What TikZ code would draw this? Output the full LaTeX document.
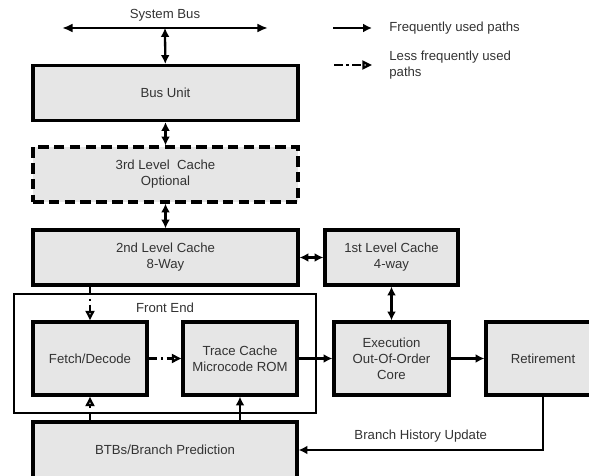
\documentclass[tikz,border=0pt]{standalone}
\usepackage{fontspec}
\setmainfont{Liberation Sans}
\usepackage{xcolor}
\usetikzlibrary{positioning,arrows.meta,calc}
\definecolor{boxgray}{RGB}{230,230,230}
\definecolor{txtgray}{RGB}{51,51,51}

\begin{document}
\begin{tikzpicture}[
  x=0.02cm, y=-0.02cm,
  font=\fontsize{7.5}{9}\selectfont,
  unit/.style={rectangle, draw, line width=1.8pt, fill=boxgray, text=txtgray, align=center, inner sep=0pt},
  optunit/.style={unit, dashed, dash pattern=on 6pt off 3pt},
  group/.style={rectangle, draw, line width=0.7pt, inner sep=0pt},
  lbl/.style={text=txtgray, align=left, inner sep=0pt},
  arrow/.style={-{Latex[length=5pt,width=5pt]}, line width=1.3pt},
  biarrow/.style={{Latex[length=5pt,width=5pt]}-{Latex[length=5pt,width=5pt]}, line width=1.3pt},
  busarrow/.style={{Latex[length=6pt,width=5pt]}-{Latex[length=6pt,width=5pt]}, line width=1.3pt},
  lessarrow/.style={-{Triangle[open,length=5.5pt,width=5pt]}, line width=1.3pt, dash pattern=on 5pt off 2pt on 1.3pt off 2pt}
]
  \useasboundingbox (0,0) rectangle (589,476);
  \clip (0,0) rectangle (589,476);

  % System bus
  \node[lbl] (sysbus) at (165,15) {System Bus};
  \coordinate (busL) at (62,28);
  \coordinate (busR) at (268,28);
  \coordinate (busM) at (165,28);
  \draw[busarrow] (busL) -- (busR);

  % Units
  \node[unit, minimum width=5.3cm, minimum height=1.1cm] (busunit) at (165.5,93) {Bus Unit};
  \node[optunit, minimum width=5.3cm, minimum height=1.1cm] (cache3) at (165.5,174.5) {3rd Level\ \ Cache\\Optional};
  \node[unit, minimum width=5.3cm, minimum height=1.1cm] (cache2) at (165.5,257.5) {2nd Level Cache\\8-Way};
  \node[unit, minimum width=2.66cm, minimum height=1.1cm] (cache1) at (391.5,257.5) {1st Level Cache\\4-way};
  \node[group, minimum width=6.04cm, minimum height=2.38cm] (frontend) at (165,353.5) {};
  \node[lbl] (felabel) at (165,308) {Front End};
  \node[unit, minimum width=2.28cm, minimum height=1.46cm] (fetch) at (90,358.5) {Fetch/Decode};
  \node[unit, minimum width=2.28cm, minimum height=1.46cm] (trace) at (240,358.5) {Trace Cache\\Microcode ROM};
  \node[unit, minimum width=2.3cm, minimum height=1.46cm] (exec) at (391.5,358.5) {Execution\\Out-Of-Order\\Core};
  \node[unit, minimum width=2.28cm, minimum height=1.46cm] (retire) at (543,358.5) {Retirement};
  \node[unit, minimum width=5.28cm, minimum height=1.12cm] (btb) at (165,450) {BTBs/Branch Prediction};

  % Legend
  \coordinate (freqA) at (333,28);
  \coordinate (freqB) at (372,28);
  \coordinate (lessA) at (334,65);
  \coordinate (lessB) at (372,65);
  \draw[arrow] (freqA) -- (freqB);
  \draw[lessarrow] (lessA) -- (lessB);
  \node[lbl, anchor=west] (freqtxt) at (389,28) {Frequently used paths};
  \node[lbl, anchor=west] (lesstxt) at (389,65) {Less frequently used\\paths};

  % Edges
  \draw[biarrow] (busM) -- (busunit);
  \draw[biarrow] (busunit) -- (cache3);
  \draw[biarrow] (cache3) -- (cache2);
  \draw[biarrow] (cache2) -- (cache1);
  \draw[biarrow] (cache1.south -| exec) -- (exec);
  \draw[arrow] (trace) -- (exec);
  \draw[arrow] (exec) -- (retire);
  \draw[lessarrow] (fetch) -- (trace);
  \draw[lessarrow] (cache2.south -| fetch) -- (fetch);
  \draw[lessarrow] (btb.north -| fetch) -- (fetch.south);
  \draw[arrow] (btb.north -| trace) -- (trace.south);
  \draw[arrow] (retire.south) |- node[lbl, above=3.5pt, pos=0.75] (bhu) {Branch History Update} (btb.east);

\end{tikzpicture}
\end{document}
